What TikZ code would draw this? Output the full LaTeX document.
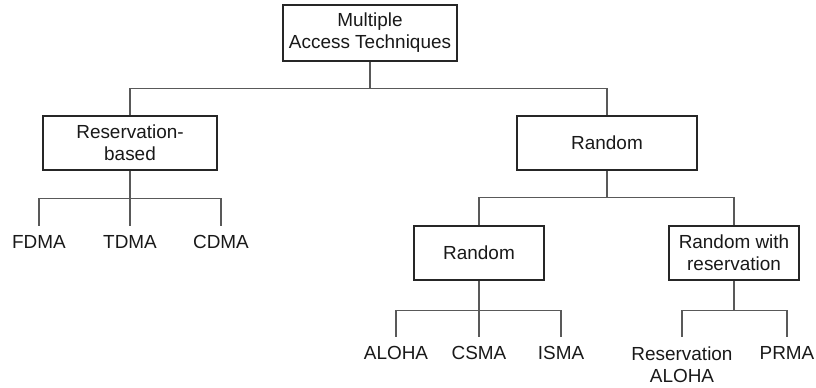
\documentclass[tikz,border=0pt]{standalone}
\usepackage{fontspec}
\setmainfont{Liberation Sans}
\usetikzlibrary{positioning}
\tikzset{
    mabox/.style = {rectangle, line width=1.4pt, draw=black!85, align=center, fill=white, font=\fontsize{14.2}{16.5}\selectfont, text=black!90, inner sep=0pt},
    leafnode/.style = {anchor=north, align=center, inner xsep=0pt, inner ysep=7pt, font=\fontsize{14.2}{16.5}\selectfont, text=black!90},
    edgeg/.style = {-, line width=0.8pt, black!65}
}
\begin{document}
\begin{tikzpicture}[x=0.75pt,y=-0.75pt]
\useasboundingbox (0,0) rectangle (816,387);
\node[mabox, minimum width=131pt, minimum height=42pt] at (370, 33) (mat) {Multiple\\Access Techniques};
\node[mabox, minimum width=131pt, minimum height=40.5pt] at (130, 143) (resv) {Reservation-\\based};
\node[mabox, minimum width=135pt, minimum height=40.5pt] at (607, 143) (rand) {Random};
\node[mabox, minimum width=98pt, minimum height=41pt] at (479, 253) (rnd) {Random};
\node[mabox, minimum width=98pt, minimum height=41pt] at (734, 253) (rwr) {Random with\\reservation};
%
\node[leafnode] at (39, 226) (fdma) {FDMA};
\node[leafnode] at (130, 226) (tdma) {TDMA};
\node[leafnode] at (221, 226) (cdma) {CDMA};
\node[leafnode] at (396, 337) (aloha) {ALOHA};
\node[leafnode] at (479, 337) (csma) {CSMA};
\node[leafnode] at (561, 337) (isma) {ISMA};
\node[leafnode] at (682, 337) (ralo) {Reservation\\ALOHA};
\node[leafnode] at (787, 337) (prma) {PRMA};
%
\draw[edgeg] (mat.south) -- ++(0,27) -| (resv.north);
\draw[edgeg] (mat.south) -- ++(0,27) -| (rand.north);
\draw[edgeg] (resv.south) -- ++(0,28) -| (fdma.north);
\draw[edgeg] (resv.south) -- (tdma.north);
\draw[edgeg] (resv.south) -- ++(0,28) -| (cdma.north);
\draw[edgeg] (rand.south) -- ++(0,27) -| (rnd.north);
\draw[edgeg] (rand.south) -- ++(0,27) -| (rwr.north);
\draw[edgeg] (rnd.south) -- ++(0,29.5) -| (aloha.north);
\draw[edgeg] (rnd.south) -- (csma.north);
\draw[edgeg] (rnd.south) -- ++(0,29.5) -| (isma.north);
\draw[edgeg] (rwr.south) -- ++(0,29.5) -| (ralo.north);
\draw[edgeg] (rwr.south) -- ++(0,29.5) -| (prma.north);
\end{tikzpicture}
\end{document}
